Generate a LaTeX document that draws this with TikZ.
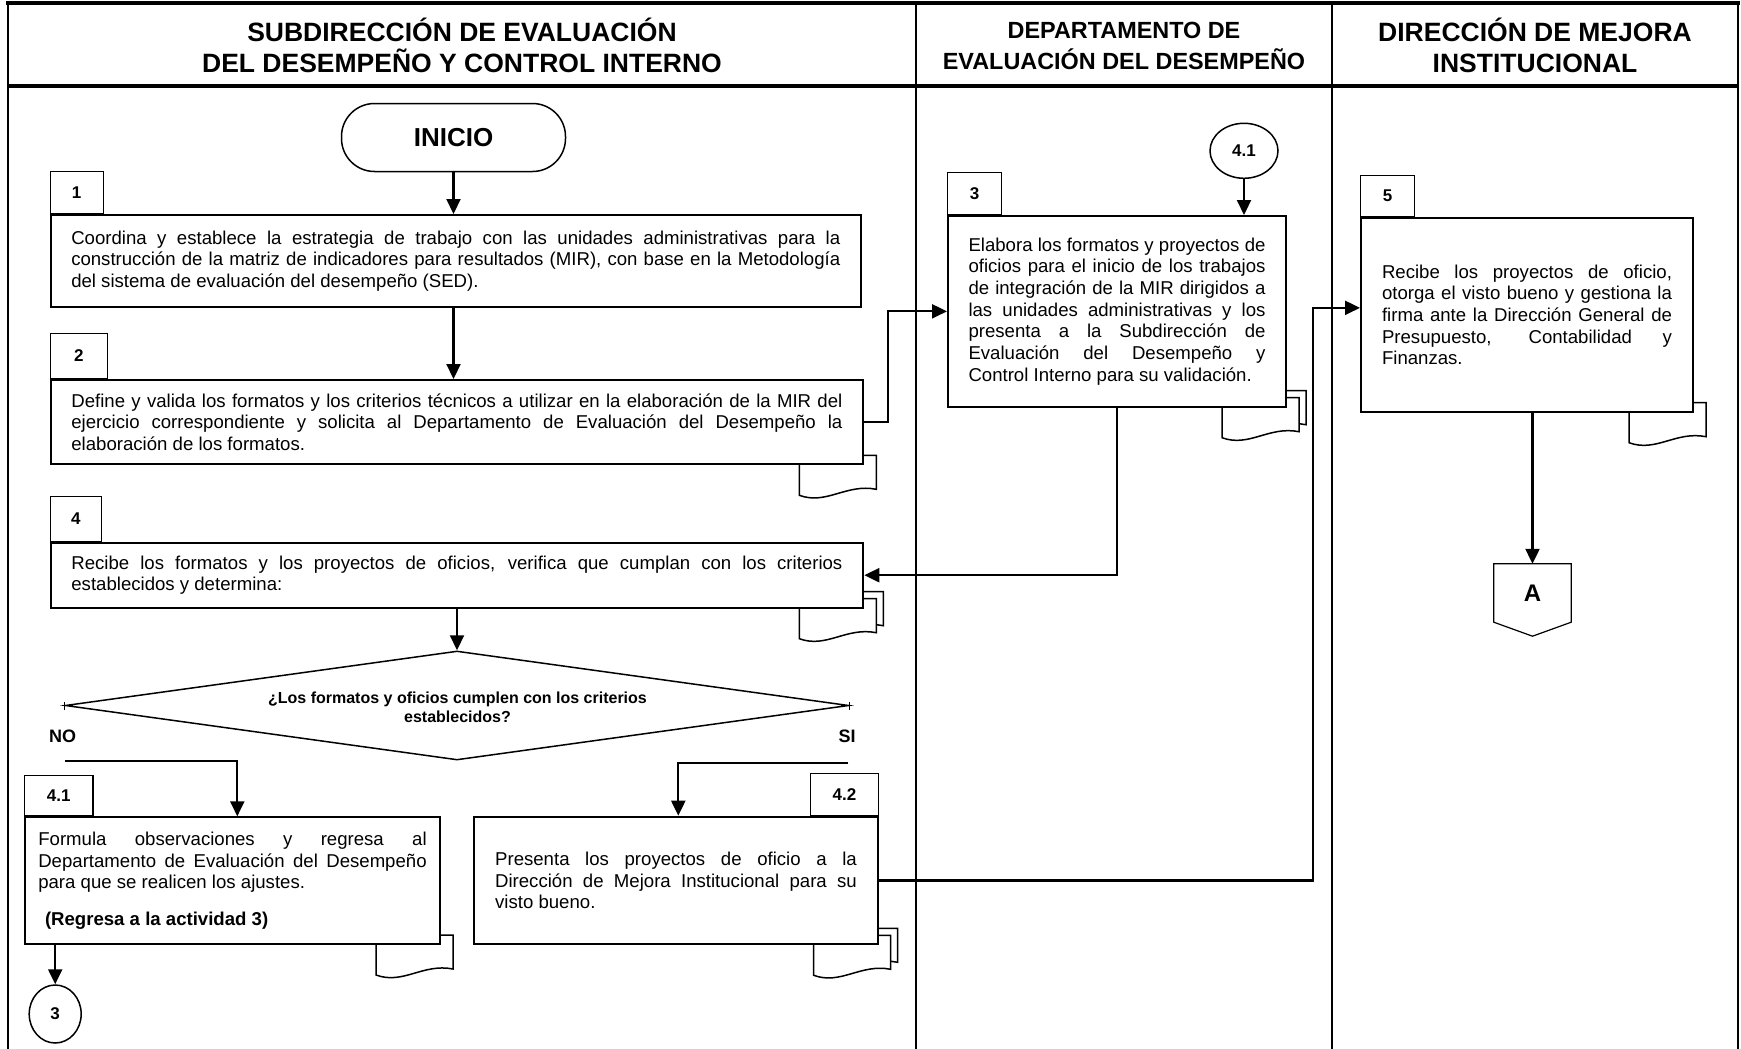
\documentclass[tikz,border=0pt]{standalone}
\usepackage{fontspec}
\setmainfont{Liberation Sans}
\usetikzlibrary{arrows.meta,shapes.geometric,calc}
\setlength{\parindent}{0pt}
\tolerance=9999
\hyphenpenalty=10000
\exhyphenpenalty=10000
\newcommand\bodyfont{\fontsize{18.6pt}{21.7pt}\selectfont}
\newcommand\headfont{\bfseries\fontsize{26.5pt}{31pt}\selectfont}
\newcommand\headfontb{\bfseries\fontsize{23.4pt}{31pt}\selectfont}
\newcommand\tabfont{\bfseries\fontsize{17pt}{20pt}\selectfont}
\pgfdeclarelayer{bg}
\pgfsetlayers{bg,main}
\tikzset{
  box/.style={draw, line width=2pt, fill=white, font=\bodyfont, align=justify, inner ysep=0pt},
  tabbox/.style={draw, line width=1.2pt, fill=white, font=\tabfont, inner sep=0pt},
  arr/.style={line width=2.2pt, -{Triangle[length=15pt,width=14pt]}},
  docline/.style={line width=1.5pt, fill=white},
  lane/.style={line width=2pt},
  pics/docone/.style={code={
    \draw[docline] (-65,-10) -- (-65,30) .. controls (-38,40) and (-18,18) .. (12,24) -- (12,-10) -- cycle;}},
  pics/doctwo/.style={code={
    \draw[docline] (-58,-17) -- (-58,23) .. controls (-31,33) and (-11,11) .. (19,17) -- (19,-17) -- cycle;
    \draw[docline] (-65,-10) -- (-65,30) .. controls (-38,40) and (-18,18) .. (12,24) -- (12,-10) -- cycle;}},
}
\begin{document}
\begin{tikzpicture}[x=1pt,y=-1pt]
\useasboundingbox (0,0) rectangle (1741,1049);

% frame and lanes
\draw[lane] (8,3) -- (8,1049);
\draw[lane] (1738,3) -- (1738,1049);
\draw[lane] (916,3) -- (916,1049);
\draw[lane] (1332,3) -- (1332,1049);
\draw[line width=4pt] (6,3) -- (1740,3);
\draw[line width=4pt] (8,86) -- (1738,86);

% headers
\node[font=\headfont, align=center] (h1) at (462,45.5) {SUBDIRECCIÓN DE EVALUACIÓN\\DEL DESEMPEÑO Y CONTROL INTERNO};
\node[font=\headfontb, align=center] (h2) at (1124,45.5) {DEPARTAMENTO DE\\EVALUACIÓN DEL DESEMPEÑO};
\node[font=\headfont, align=center] (h3) at (1535,45.5) {DIRECCIÓN DE MEJORA\\INSTITUCIONAL};

% start
\node[draw, line width=1.5pt, rounded corners=33pt, minimum width=224pt, minimum height=68pt,
      font=\bfseries\fontsize{26pt}{30pt}\selectfont] (ini) at (453.5,137.5) {INICIO};

% boxes
\node[box, text width=769pt, inner xsep=20.75pt, minimum height=92pt] (b1) at (455.75,261) {%
Coordina y establece la estrategia de trabajo con las unidades administrativas para la\linebreak
construcción de la matriz de indicadores para resultados (MIR), con base en la Metodología\linebreak
del sistema de evaluación del desempeño (SED).};

\node[box, text width=771pt, inner xsep=20.9pt, minimum height=84.3pt] (b2) at (456.9,422.15) {%
Define y valida los formatos y los criterios técnicos a utilizar en la elaboración de la MIR del\linebreak
ejercicio correspondiente y solicita al Departamento de Evaluación del Desempeño la\linebreak
elaboración de los formatos.};

\node[box, text width=297pt, inner xsep=20.5pt, minimum height=190.7pt] (b3) at (1117,311.35) {%
Elabora los formatos y proyectos de\linebreak
oficios para el inicio de los trabajos\linebreak
de integración de la MIR dirigidos a\linebreak
las unidades administrativas y los\linebreak
presenta a la Subdirección de\linebreak
Evaluación del Desempeño y\linebreak
Control Interno para su validación.};

\node[box, text width=771pt, inner xsep=20.9pt, minimum height=65pt] (b4) at (456.9,575.2) {%
Recibe los formatos y los proyectos de oficios, verifica que cumplan con los criterios\linebreak
establecidos y determina:};

\node[box, text width=388.4pt, inner xsep=13.3pt, minimum height=126.7pt] (b41) at (232.5,880.65) {%
Formula observaciones y regresa al\linebreak
Departamento de Evaluación del Desempeño\linebreak
para que se realicen los ajustes.\\[14.9pt]
\hspace*{6.7pt}\textbf{(Regresa a la actividad 3)}};

\node[box, text width=361.7pt, inner xsep=20.85pt, minimum height=127.6pt] (b42) at (676,880.5) {%
Presenta los proyectos de oficio a la\linebreak
Dirección de Mejora Institucional para su\linebreak
visto bueno.};

\node[box, text width=290pt, inner xsep=21pt, minimum height=193.7pt] (b5) at (1527,314.85) {%
Recibe los proyectos de oficio,\linebreak
otorga el visto bueno y gestiona la\linebreak
firma ante la Dirección General de\linebreak
Presupuesto, Contabilidad y\linebreak
Finanzas.};

% tabs and document symbols (behind boxes)
\begin{pgfonlayer}{bg}
\node[tabbox, anchor=south west, minimum width=53pt, minimum height=42.3pt] (t1) at (b1.north west) {1};
\node[tabbox, anchor=south west, minimum width=57.5pt, minimum height=45pt] (t2) at (b2.north west) {2};
\node[tabbox, anchor=south west, minimum width=54pt, minimum height=42pt] (t3) at (b3.north west) {3};
\node[tabbox, anchor=south west, minimum width=51.5pt, minimum height=44.7pt] (t4) at (b4.north west) {4};
\node[tabbox, anchor=south west, minimum width=54pt, minimum height=41pt] (t5) at (b5.north west) {5};
\node[tabbox, anchor=south west, minimum width=68.3pt, minimum height=40pt] (t41) at (b41.north west) {4.1};
\node[tabbox, anchor=south east, minimum width=67.3pt, minimum height=41.7pt] (t42) at (b42.north east) {4.2};
\pic at (b2.south east) {docone};
\pic at (b3.south east) {doctwo};
\pic at (b4.south east) {doctwo};
\pic at (b41.south east) {docone};
\pic at (b42.south east) {doctwo};
\pic at (b5.south east) {docone};
\end{pgfonlayer}

% decision
\node[diamond, draw, line width=1.5pt, minimum width=783.5pt, minimum height=109pt, inner sep=0pt] (d) at (457,705.5) {};
\node[font=\bfseries\fontsize{16pt}{18.7pt}\selectfont, align=center] (dq) at (457.5,707) {¿Los formatos y oficios cumplen con los criterios\\establecidos?};
\draw[line width=1.5pt] ([yshift=4pt]d.west) -- ([yshift=-4pt]d.west);
\draw[line width=1.5pt] ([yshift=4pt]d.east) -- ([yshift=-4pt]d.east);
\node[font=\bfseries\fontsize{18pt}{21pt}\selectfont] (no) at (62.7,736.7) {NO};
\node[font=\bfseries\fontsize{18pt}{21pt}\selectfont] (si) at (847,736.7) {SI};

% connectors (circles, off-page)
\node[draw, ellipse, line width=1.5pt, minimum width=68pt, minimum height=55pt, inner sep=0pt, font=\tabfont] (c41) at (1244,150.8) {4.1};
\node[draw, ellipse, line width=1.5pt, minimum width=52pt, minimum height=58pt, inner sep=0pt, font=\tabfont] (c3) at (55.2,1014) {3};
\node[font=\bfseries\fontsize{24pt}{28pt}\selectfont, minimum width=77pt, minimum height=58pt, inner sep=0pt] (A) at (1532.5,593) {A};
\draw[line width=1.2pt] (A.north west) -- (A.north east) -- (A.south east) -- ([yshift=-14pt]A.south) -- (A.south west) -- cycle;

% arrows
\draw[arr] (ini.south) -- (ini.south |- b1.north);
\draw[arr] (ini.south |- b1.south) -- (ini.south |- b2.north);
\draw[arr] (b2.east) -- ++(23.5,0) |- (b3.west);
\draw[arr] (c41.south) -- (c41.south |- b3.north);
\draw[arr] (b3.south) |- (b4.east);
\draw[arr] (d.north |- b4.south) -- (d.north);
\coordinate (noS) at (65,761);
\coordinate (siS) at (848.3,762.7);
\draw[arr] (noS) -| ([xshift=4.8pt]b41.north);
\draw[arr] (siS) -| ([xshift=2.3pt]b42.north);
\draw[arr] (c3.north |- b41.south) -- (c3.north);
\draw[arr] (b42.east) -- ++(434.6,0) |- ([yshift=7pt]b5.west);
\draw[arr] (A.north |- b5.south) -- (A.north);
\end{tikzpicture}
\end{document}
